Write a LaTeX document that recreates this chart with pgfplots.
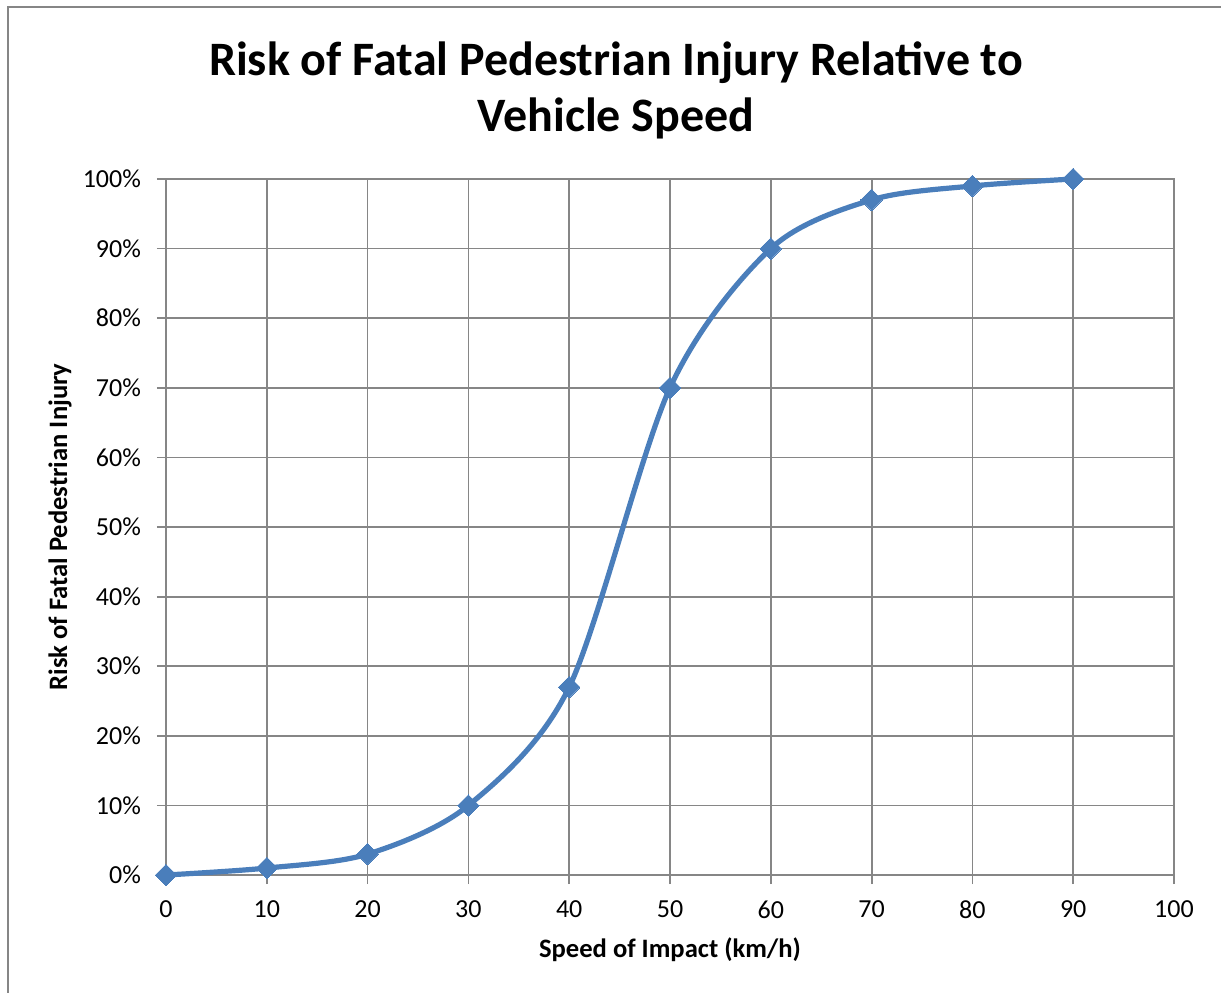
\documentclass[border=0pt]{standalone}
\usepackage{pgfplots}
\pgfplotsset{compat=1.18}
\usepackage{fontspec}
\setmainfont{Carlito}
\definecolor{gridgray}{HTML}{868686}
\definecolor{lineblue}{HTML}{4A7EBB}
\begin{document}
\begin{tikzpicture}
\path[use as bounding box] (-83pt,-58.5pt) rectangle (527.5pt,437.5pt);
\clip (-83pt,-58.5pt) rectangle (527.5pt,437.5pt);
\draw[gridgray, line width=1pt] (-79pt,-80pt) rectangle (560pt,434pt);
\begin{axis}[
  at={(0,0)}, anchor=south west,
  scale only axis, width=504pt, height=348pt,
  xmin=0, xmax=100, ymin=0, ymax=100,
  xtick={0,10,...,100}, ytick={0,10,...,100},
  grid=major,
  major grid style={gridgray, line width=0.9pt},
  axis line style={gridgray, line width=0.9pt},
  tick style={gridgray, line width=0.9pt},
  tick align=outside, major tick length=4.5pt,
  xtick pos=bottom, ytick pos=left,
  /pgf/number format/assume math mode=true,
  ticklabel style={font=\fontsize{13pt}{15pt}\selectfont},
  yticklabel={\pgfmathprintnumber{\tick}\%},
  yticklabel style={xshift=-4.5pt},
  xticklabel style={yshift=-5pt},
  clip=false,
]
\addplot[lineblue, line width=2.6pt, smooth, tension=0.5,
  mark=square*, mark size=3.8pt, mark options={rotate=45, line width=0pt, fill=lineblue}]
  coordinates {(0,0) (10,1) (20,3) (30,10) (40,27) (50,70) (60,90) (70,97) (80,99) (90,100)};
\end{axis}
\node[font=\bfseries\fontsize{24pt}{28pt}\selectfont, align=center] at (225pt,392.5pt) {Risk of Fatal Pedestrian Injury Relative to\\Vehicle Speed};
\node[font=\bfseries\fontsize{13.3pt}{15pt}\selectfont] at (252pt,-37.5pt) {Speed of Impact (km/h)};
\node[font=\bfseries\fontsize{13.3pt}{15pt}\selectfont, rotate=90] at (-53pt,174pt) {Risk of Fatal Pedestrian Injury};
\end{tikzpicture}
\end{document}
